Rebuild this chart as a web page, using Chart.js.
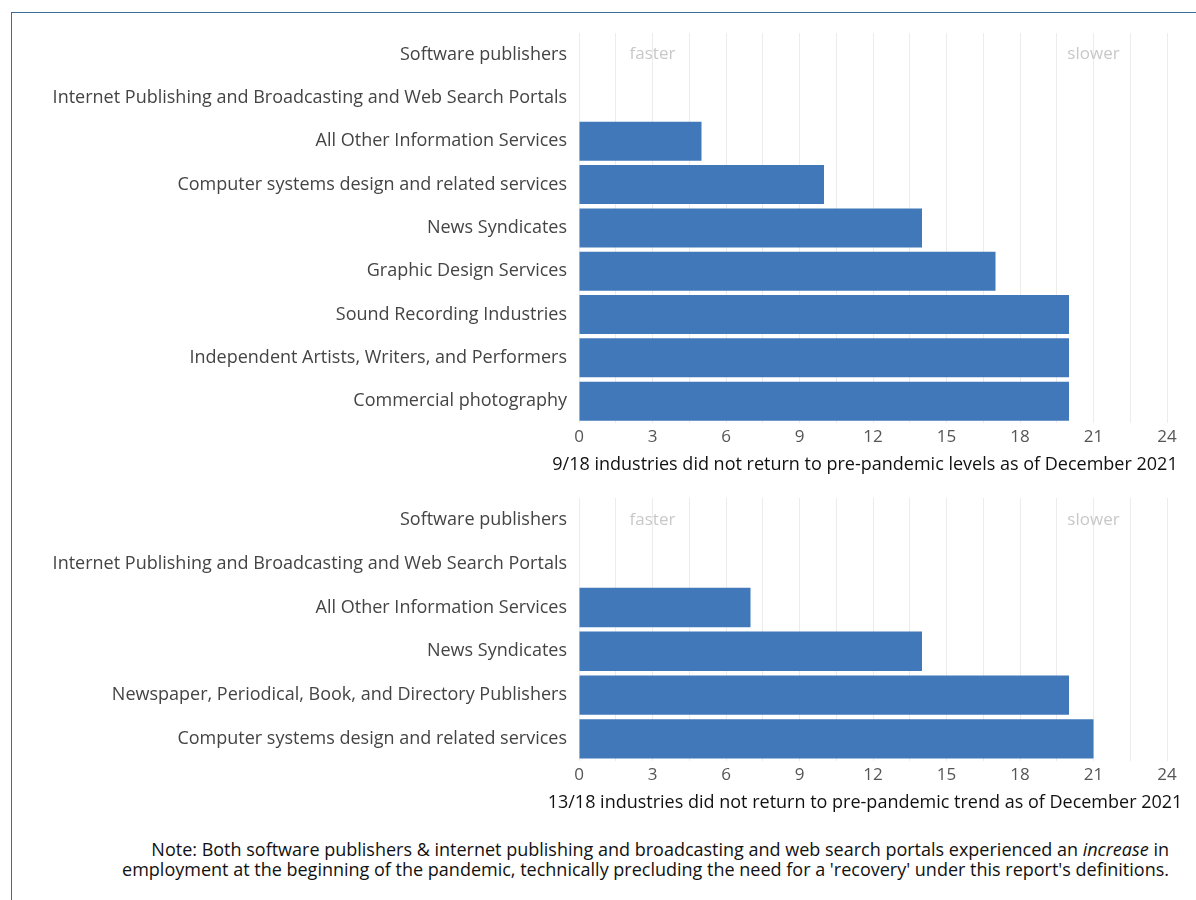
<!DOCTYPE html>
<html>
<head>
<meta charset="utf-8">
<script src="https://cdn.jsdelivr.net/npm/chart.js@4.4.1/dist/chart.umd.min.js"></script>
<style>
  body { margin: 0; width: 1196px; height: 900px; background: #fff; position: relative; overflow: hidden; font-family: "Open Sans", "Noto Sans", sans-serif; }
  .frame { position: absolute; left: 11px; top: 12px; right: -10px; bottom: -10px; border-top: 1px solid #3a6b9b; border-left: 1px solid #3a6b9b; }
  .box { position: absolute; left: 0; width: 1196px; }
  #levelsBox { top: 33px; height: 443px; }
  #trendBox { top: 498px; height: 316px; }
  .note { position: absolute; right: 27px; top: 839px; text-align: right; font-size: 18px; line-height: 20px; color: #111; }
</style>
</head>
<body>
<div class="frame"></div>
<div class="box" id="levelsBox"><canvas id="levelsChart"></canvas></div>
<div class="box" id="trendBox"><canvas id="trendChart"></canvas></div>
<div class="note">Note: Both software publishers &amp; internet publishing and broadcasting and web search portals experienced an <i>increase</i> in<br>employment at the beginning of the pandemic, technically precluding the need for a 'recovery' under this report's definitions.</div>

<script>
const levelsLabels = [
  "Software publishers",
  "Internet Publishing and Broadcasting and Web Search Portals",
  "All Other Information Services",
  "Computer systems design and related services",
  "News Syndicates",
  "Graphic Design Services",
  "Sound Recording Industries",
  "Independent Artists, Writers, and Performers",
  "Commercial photography"
];
const levelsValues = [null, null, 5, 10, 14, 17, 20, 20, 20];

const trendLabels = [
  "Software publishers",
  "Internet Publishing and Broadcasting and Web Search Portals",
  "All Other Information Services",
  "News Syndicates",
  "Newspaper, Periodical, Book, and Directory Publishers",
  "Computer systems design and related services"
];
const trendValues = [null, null, 7, 14, 20, 21];

const xTicks = [0, 3, 6, 9, 12, 15, 18, 21, 24];
const speedNotes = [{ text: "faster", at: 3 }, { text: "slower", at: 21 }];

const barColor = "#4178ba";
const fontFamily = "'Open Sans', 'Noto Sans', sans-serif";

// grey "faster" / "slower" words on the first row
const speedNotesPlugin = {
  id: "speedNotes",
  afterDatasetsDraw(chart) {
    const ctx = chart.ctx;
    const x = chart.scales.x, y = chart.scales.y;
    ctx.save();
    ctx.font = "17px " + fontFamily;
    ctx.fillStyle = "#c8c8c8";
    ctx.textAlign = "center";
    ctx.textBaseline = "middle";
    speedNotes.forEach(n => ctx.fillText(n.text, x.getPixelForValue(n.at), y.getPixelForValue(0)));
    ctx.restore();
  }
};

// x-axis caption drawn by hand: the built-in title gets squeezed to the axis width
const captionPlugin = {
  id: "caption",
  afterDraw(chart, args, opts) {
    const ctx = chart.ctx;
    const x = chart.scales.x;
    ctx.save();
    ctx.font = "18px " + fontFamily;
    ctx.fillStyle = "#111";
    ctx.textAlign = "center";
    ctx.textBaseline = "middle";
    ctx.fillText(opts.text, (x.left + x.right) / 2 - 8, x.bottom - 11);
    ctx.restore();
  }
};

function makeChart(id, labels, values, title) {
  return new Chart(id, {
    type: "bar",
    data: {
      labels: labels,
      datasets: [{
        data: values,
        backgroundColor: barColor,
        barPercentage: 0.9,
        categoryPercentage: 1
      }]
    },
    options: {
      indexAxis: "y",
      responsive: true,
      maintainAspectRatio: false,
      animation: false,
      layout: { padding: { right: 29 } },
      plugins: {
        legend: { display: false },
        tooltip: { enabled: false },
        caption: { text: title }
      },
      scales: {
        x: {
          min: 0,
          max: 24,
          border: { display: false },
          grid: { color: "#ececec", drawTicks: false },
          ticks: {
            stepSize: 1.5,
            autoSkip: false,
            maxRotation: 0,
            padding: 4,
            color: "#555",
            font: { family: fontFamily, size: 17 },
            callback: v => xTicks.includes(v) ? v : ""
          },
          // keeps the room for the caption
          title: {
            display: true,
            text: title,
            color: "rgba(0,0,0,0)",
            padding: { top: 2, bottom: 0 },
            font: { family: fontFamily, size: 19 }
          }
        },
        y: {
          border: { display: false },
          grid: { display: false, drawTicks: false },
          ticks: {
            padding: 12,
            color: "#444",
            font: { family: fontFamily, size: 18 }
          },
          afterFit(scale) {
            scale.width = 579;
            scale.paddingTop = 0;
            scale.paddingBottom = 0;
          }
        }
      }
    },
    plugins: [speedNotesPlugin, captionPlugin]
  });
}

makeChart("levelsChart", levelsLabels, levelsValues, "9/18 industries did not return to pre-pandemic levels as of December 2021");
makeChart("trendChart", trendLabels, trendValues, "13/18 industries did not return to pre-pandemic trend as of December 2021");
</script>
</body>
</html>
